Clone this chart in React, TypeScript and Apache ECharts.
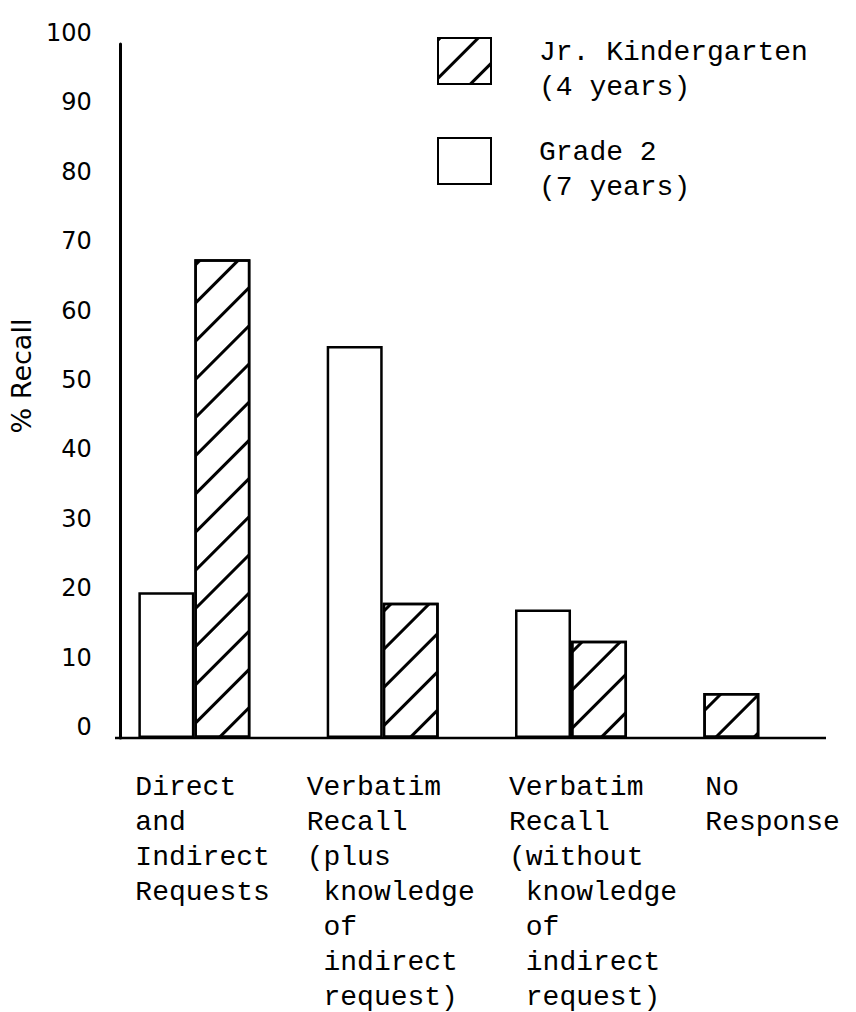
import React, { useEffect, useRef } from "react";
import * as echarts from "echarts";

const categories = [
  "Direct\nand\nIndirect\nRequests",
  "Verbatim\nRecall\n(plus\n\u00a0knowledge\n\u00a0of\n\u00a0indirect\n\u00a0request)",
  "Verbatim\nRecall\n(without\n\u00a0knowledge\n\u00a0of\n\u00a0indirect\n\u00a0request)",
  "No\nResponse",
];
const grade2: (number | null)[] = [21, 56.5, 18.5, null];
const kindergarten: number[] = [69, 19.5, 14, 6.5];
const yTicks = [0, 10, 20, 30, 40, 50, 60, 70, 80, 90, 100];

const NAME_JK = "Jr. Kindergarten";
const NAME_G2 = "Grade 2";
const legendLines: Record<string, string[]> = {
  [NAME_JK]: ["Jr. Kindergarten", "(4 years)"],
  [NAME_G2]: ["Grade 2", "(7 years)"],
};

const labelWidths = [118, 152, 124, 108];

const MONO = "'Liberation Mono', 'DejaVu Sans Mono', monospace";
const SANS = "'DejaVu Sans', sans-serif";

export default function App() {
  const ref = useRef<HTMLDivElement>(null);
  useEffect(() => {
    if (!ref.current) return;
    const chart = echarts.init(ref.current, null, { renderer: "svg" });
    const hatch = {
      symbol: "rect",
      symbolSize: 1,
      color: "#000",
      dashArrayX: [1, 0],
      dashArrayY: [3, 24],
      rotation: -Math.PI / 4,
    };
    const kinderMain = kindergarten.map((v, i) => (grade2[i] == null ? null : v));
    const kinderLeft = kindergarten.map((v, i) => (grade2[i] == null ? v : null));
    const rich: Record<string, any> = {};
    labelWidths.forEach((w, i) => {
      rich["c" + i] = {
        width: w,
        align: "left",
        fontFamily: MONO,
        fontSize: 28,
        lineHeight: 35,
        color: "#000",
      };
    });
    const barStyle = { color: "#fff", borderColor: "#000", borderWidth: 2.5 };
    chart.setOption({
      animation: false,
      backgroundColor: "#fff",
      grid: { left: 97.5, right: 2.5, top: 44, bottom: 274 },
      legend: {
        orient: "vertical",
        left: 437,
        top: 21,
        padding: 0,
        icon: "rect",
        itemWidth: 53,
        itemHeight: 46,
        itemGap: 20,
        data: [NAME_JK, NAME_G2],
        formatter: (n: string) =>
          ["{s|\u00a0}", ...(legendLines[n] || [n]).map((l) => `{t|${l}}`)].join("\n"),
        textStyle: {
          fontFamily: MONO,
          fontSize: 28,
          color: "#000",
          padding: [0, 0, 0, 43],
          rich: {
            s: { fontSize: 10, lineHeight: 17 },
            t: { fontFamily: MONO, fontSize: 28, lineHeight: 35, color: "#000" },
          },
        },
        selectedMode: false,
      },
      xAxis: {
        type: "category",
        data: categories,
        axisLine: { show: false },
        axisTick: { show: false },
        axisLabel: {
          interval: 0,
          margin: 32,
          formatter: (v: string, i: number) =>
            v
              .split("\n")
              .map((l) => `{c${i}|${l}}`)
              .join("\n"),
          rich,
        },
      },
      yAxis: {
        type: "value",
        min: 0,
        max: 100,
        interval: 10,
        offset: -20.5,
        name: "% Recall",
        nameLocation: "middle",
        nameRotate: 90,
        nameGap: 78,
        nameTextStyle: {
          fontFamily: SANS,
          fontSize: 27,
          color: "#000",
          padding: [0, 0, 0, 30],
          backgroundColor: "rgba(255,255,255,0)",
        },
        axisLine: { show: true, lineStyle: { color: "#000", width: 3 } },
        axisTick: { show: false },
        splitLine: { show: false },
        axisLabel: {
          margin: 29,
          fontFamily: SANS,
          fontSize: 24,
          lineHeight: 22,
          color: "#000",
          verticalAlign: "bottom",
          formatter: (v: number) => (yTicks.includes(v) ? String(v) : ""),
        },
      },
      series: [
        {
          name: NAME_G2,
          type: "bar",
          stack: "left",
          barWidth: 56,
          barGap: "0%",
          data: grade2,
          itemStyle: barStyle,
        },
        {
          name: NAME_JK,
          type: "bar",
          stack: "right",
          barWidth: 56,
          barGap: "0%",
          data: kinderMain,
          itemStyle: { ...barStyle, decal: hatch },
        },
        {
          name: NAME_JK,
          type: "bar",
          stack: "left",
          barWidth: 56,
          barGap: "0%",
          data: kinderLeft,
          itemStyle: { ...barStyle, decal: hatch },
        },
      ],
      graphic: [
        {
          type: "line",
          z: 100,
          shape: { x1: 115, y1: 738, x2: 826, y2: 738 },
          style: { stroke: "#000", lineWidth: 2.5 },
        },
      ],
    });
    return () => chart.dispose();
  }, []);
  return (
    <div
      ref={ref}
      style={{ position: "absolute", left: 0, top: 0, width: 856, height: 1012 }}
    />
  );
}
